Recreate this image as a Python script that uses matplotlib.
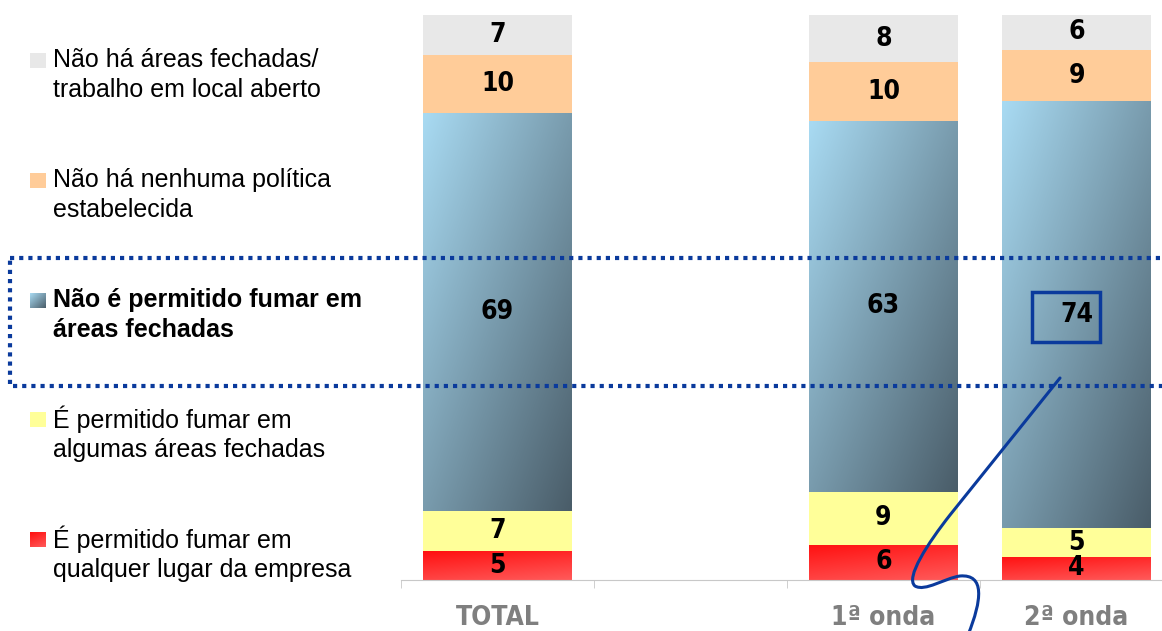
import numpy as np
import matplotlib
matplotlib.use("Agg")
import matplotlib.pyplot as plt
from matplotlib import font_manager
from matplotlib.colors import LinearSegmentedColormap
from matplotlib.patches import Rectangle, PathPatch
from matplotlib.path import Path

# data (percent, bottom -> top)
categories = ["TOTAL", "", "1ª onda", "2ª onda"]
qualquer_lugar = [5, 0, 6, 4]
algumas_areas = [7, 0, 9, 5]
nao_permitido = [69, 0, 63, 74]
sem_politica = [10, 0, 10, 9]
sem_areas = [7, 0, 8, 6]

series = [qualquer_lugar, algumas_areas, nao_permitido, sem_politica, sem_areas]
legend_labels = [
    "É permitido fumar em\nqualquer lugar da empresa",
    "É permitido fumar em\nalgumas áreas fechadas",
    "Não é permitido fumar em\náreas fechadas",
    "Não há nenhuma política\nestabelecida",
    "Não há áreas fechadas/\ntrabalho em local aberto",
]

W, H = 1162, 631
SANS = ["Liberation Sans", "DejaVu Sans"]
BLUE_LINE = "#0a3a9c"

# pick a condensed bold face if one is installed
narrow = None
for f in font_manager.fontManager.ttflist:
    low = f.fname.lower()
    if ("narrow" in low or "condensed" in low) and f.weight in (700, "bold"):
        if "mono" in low or "serif" in low and "sans" not in low:
            continue
        narrow = font_manager.FontProperties(fname=f.fname)
        break
if narrow is None:
    narrow = font_manager.FontProperties(family="Liberation Sans", weight="bold")

# fills: flat colour or (start, end, weight x, weight y) gradient
fills = [
    ("#ff1010", "#ff5a5a", 0.3, 0.7),
    "#ffff99",
    ("#a8daf2", "#4a5d69", 0.5, 0.5),
    "#ffcc99",
    "#e8e8e8",
]


def gradient(ax, patch, spec, z):
    c0, c1, wx, wy = spec
    u, v = np.meshgrid(np.linspace(0, 1, 80), np.linspace(0, 1, 80))
    cmap = LinearSegmentedColormap.from_list("g", [c0, c1])
    x0, y0 = patch.get_x(), patch.get_y()
    w, h = patch.get_width(), patch.get_height()
    if ax.yaxis_inverted():
        ext = (x0, x0 + w, y0 + h, y0)
    else:
        ext = (x0, x0 + w, y0, y0 + h)
    im = ax.imshow(wx * u + wy * v, cmap=cmap, vmin=0, vmax=1,
                   extent=ext, origin="upper",
                   aspect="auto", interpolation="bilinear", zorder=z)
    im.set_clip_path(patch)


fig = plt.figure(figsize=(W / 100, H / 100), dpi=100)

# bar axes: category slots 193 px wide, 100 % = 565 px
ax = fig.add_axes([401 / W, (H - 580) / H, (W - 401) / W, 565 / H])
ax.set_xlim(-0.5, -0.5 + (W - 401) / 193)
ax.set_ylim(0, 100)
xs = np.arange(len(categories))
data = np.array(series, dtype=float)
totals = data.sum(axis=0)
share = np.divide(data * 100, totals, out=np.zeros_like(data), where=totals > 0)

bw = 149 / 193
bottom = np.zeros(len(categories))
for k, (vals, fill) in enumerate(zip(series, fills)):
    for i, x in enumerate(xs):
        if totals[i] == 0:
            continue
        h = share[k, i]
        if isinstance(fill, str):
            ax.bar(x, h, bw, bottom=bottom[i], color=fill, lw=0, zorder=2)
        else:
            bar = ax.bar(x, h, bw, bottom=bottom[i], color="none", lw=0, zorder=2)[0]
            gradient(ax, bar, fill, 2)
        ax.text(x, bottom[i] + h / 2, str(vals[i]), ha="center", va="center",
                fontproperties=narrow, fontsize=19, fontweight="bold", zorder=4)
    bottom += share[k]

ax.set_xlim(-0.5, -0.5 + (W - 401) / 193)
ax.set_ylim(0, 100)
for s in ["top", "right", "left"]:
    ax.spines[s].set_visible(False)
ax.spines["bottom"].set_color("#c8c8c8")
ax.set_yticks([])
ax.set_xticks(xs)
ax.set_xticklabels(categories, color="#7f7f7f")
for t in ax.get_xticklabels():
    t.set_fontproperties(narrow)
    t.set_fontsize(19)
    t.set_fontweight("bold")
ax.tick_params(axis="x", which="major", length=0, pad=18)
ax.set_xticks(np.arange(-0.5, len(categories) - 0.5), minor=True)
ax.tick_params(axis="x", which="minor", length=6, color="#c8c8c8")

# overlay in pixel coordinates for legend and annotations
ov = fig.add_axes([0, 0, 1, 1], zorder=5)
ov.set_xlim(0, W)
ov.set_ylim(H, 0)
ov.axis("off")
ov.patch.set_alpha(0)

entry_y = [554, 434, 315, 195, 75]
for k, (lab, fill) in enumerate(zip(legend_labels, fills)):
    cy = entry_y[k] - 15
    sq = Rectangle((30, cy - 7), 16, 15, lw=0,
                   facecolor=fill if isinstance(fill, str) else "none")
    ov.add_patch(sq)
    if not isinstance(fill, str):
        gradient(ov, sq, fill, 6)
    ov.text(53, entry_y[k], lab, ha="left", va="center", fontsize=18,
            linespacing=1.28, family=SANS,
            fontweight="bold" if k == 2 else "normal")
ov.set_xlim(0, W)
ov.set_ylim(H, 0)

# dotted highlight box
ov.add_patch(Rectangle((10, 258), W + 20, 128, fill=False, ec=BLUE_LINE,
                       lw=3, ls=(0, (1, 1.2)), clip_on=False))
# box around 74
ov.add_patch(Rectangle((1032, 292), 68, 50, fill=False, ec=BLUE_LINE, lw=2.5))

# hand-drawn stroke
verts = [(1060, 378), (950, 515),
         (928, 543), (905, 578), (915, 586),
         (925, 592), (945, 578), (960, 576),
         (985, 574), (982, 600), (968, 635)]
codes = [Path.MOVETO, Path.LINETO] + [Path.CURVE4] * 9
ov.add_patch(PathPatch(Path(verts, codes), fill=False, ec=BLUE_LINE, lw=2.2,
                       capstyle="round"))

fig.savefig("out.png", dpi=100)
